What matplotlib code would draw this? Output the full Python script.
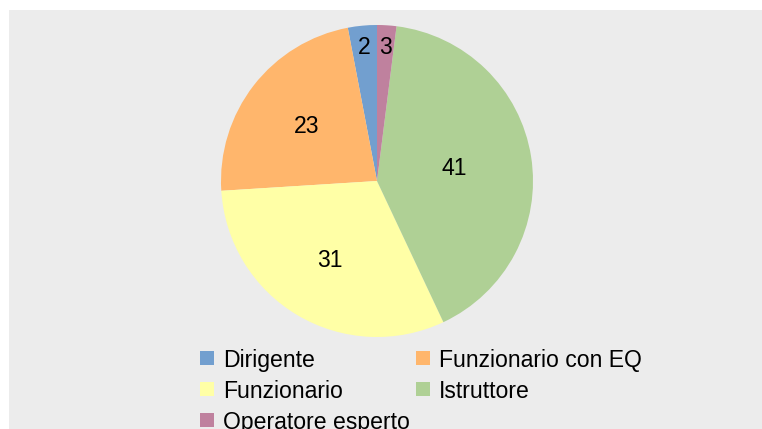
import matplotlib
matplotlib.use("Agg")
import matplotlib.pyplot as plt
from matplotlib.patches import Rectangle
import numpy as np

plt.rcParams['font.family'] = ['Liberation Sans', 'DejaVu Sans']

categories = ["Dirigente", "Funzionario con EQ", "Funzionario", "Istruttore", "Operatore esperto"]
slice_values = [3, 23, 31, 41, 2]          # slice sizes as drawn
value_labels = ["2", "23", "31", "41", "3"]  # data labels as printed on the chart
colors = ["#729fcf", "#ffb66c", "#ffffa6", "#afd095", "#bf819e"]
label_radius = [0.86, 0.57, 0.59, 0.50, 0.86]

W, H = 762, 429
fig = plt.figure(figsize=(W / 100, H / 100), dpi=100)
fig.patch.set_facecolor("white")
fig.patches.append(Rectangle((9 / W, 0), 1 - 9 / W, 1 - 10 / H, transform=fig.transFigure,
                             facecolor="#ececec", edgecolor="none", zorder=-5))

cx, cy, r = 377, 181, 156
ax = fig.add_axes([(cx - r) / W, (H - cy - r) / H, 2 * r / W, 2 * r / H])
ax.set_zorder(2)
ax.set_facecolor("none")
wedges, _ = ax.pie(slice_values, colors=colors, startangle=90, counterclock=True,
                   radius=1, wedgeprops=dict(linewidth=0), frame=False)
ax.set_xlim(-1, 1)
ax.set_ylim(-1, 1)
ax.axis("off")

for w, lab, rr in zip(wedges, value_labels, label_radius):
    mid = np.deg2rad((w.theta1 + w.theta2) / 2)
    ax.text(rr * np.cos(mid), rr * np.sin(mid), lab, ha="center", va="center",
            fontsize=16.6, color="black")

# legend (row-major, two columns)
col_x = [200, 416]
row_y = [358, 389, 420]
sq = 14
for i, (cat, col) in enumerate(zip(categories, colors)):
    row, c = divmod(i, 2)
    x, y = col_x[c], row_y[row]
    fig.patches.append(Rectangle((x / W, (H - y - sq / 2) / H), sq / W, sq / H,
                                 transform=fig.transFigure, facecolor=col,
                                 edgecolor="none", zorder=2))
    fig.text((x + 23) / W, (H - y) / H, cat, ha="left", va="center_baseline",
             fontsize=16.6, color="black")

fig.savefig("out.png", dpi=100)
